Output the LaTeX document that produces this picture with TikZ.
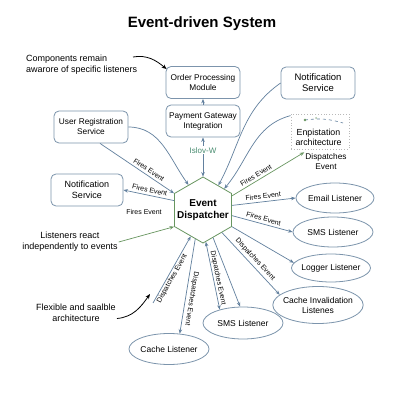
\documentclass[tikz,border=0pt]{standalone}
\usepackage{fontspec}
\setmainfont{Liberation Sans}
\definecolor{edblue}{RGB}{98,128,158}
\definecolor{bxblue}{RGB}{124,148,172}
\definecolor{edgreen}{RGB}{104,150,96}
\definecolor{txtgreen}{RGB}{72,140,112}
\usetikzlibrary{arrows.meta,positioning,shapes.geometric,calc}

\begin{document}
\begin{tikzpicture}[x=1pt, y=1pt,
  comp/.style={rectangle, rounded corners=5pt, draw=bxblue, line width=0.8pt,
              fill=white, minimum width=74pt, minimum height=32pt, inner sep=2pt,
              font=\fontsize{8.3}{10}\selectfont, align=center},
  lis/.style={ellipse, draw=bxblue, line width=0.8pt, fill=white,
              minimum width=80pt, minimum height=31pt, inner xsep=-3pt, inner ysep=0pt,
              font=\fontsize{8.5}{10}\selectfont, align=center},
  note/.style={font=\fontsize{9}{10.8}\selectfont, align=center, inner sep=1pt},
  lbl/.style={font=\fontsize{7}{8}\selectfont, inner sep=1.5pt},
  conn/.style={-{Stealth[length=4.5pt,width=3.5pt]}, draw=edblue, line width=0.7pt},
  conng/.style={conn, draw=edgreen},
  both/.style={conn, {Stealth[length=4.5pt,width=3.5pt]}-{Stealth[length=4.5pt,width=3.5pt]}},
  curv/.style={-{Stealth[length=5pt,width=4pt]}, line width=0.8pt, draw=black}
]
\fill[white] (0,0) rectangle (400,400);
\useasboundingbox (0,0) rectangle (400,400);

\node[font=\bfseries\fontsize{15}{18}\selectfont] (title) at (202,376) {Event-driven System};

% dispatcher
\node[regular polygon, regular polygon sides=6, shape border rotate=30, minimum size=66pt,
      inner sep=0pt, draw=edgreen, line width=0.8pt, fill=white] (hex) at (203,190) {};
\node[font=\bfseries\fontsize{10}{11.5}\selectfont, align=center] (hextxt) at (hex) {Event\\Dispatcher};

% components
\node[comp] (order) at (203,317.5) {Order Processing\\Module};
\node[comp] (pay) at (203,279) {Payment Gateway\\Integration};
\node[comp] (userreg) at (91,273) {User Registration\\Service};
\node[comp, minimum width=72pt, font=\fontsize{9}{10.5}\selectfont] (notifl) at (87,210) {Notification\\Service};
\node[comp, font=\fontsize{9.5}{11}\selectfont] (notifr) at (318,317) {Notification\\Service};

\node[rectangle, draw=gray!55, dotted, line width=0.8pt, minimum width=58pt, minimum height=35pt] (enpi) at (320,268.5) {};
\node[font=\fontsize{8.8}{10}\selectfont, align=center] (enpitxt) at (318.5,263) {Enpistation\\architecture};
\draw[edblue, dashed, line width=0.6pt] (305,280) to[bend left=12] (343,277);
\fill[edgreen] (305,280) circle (1.3pt);
\fill[edgreen!60] (316,282) circle (1pt);
\node[font=\fontsize{8.3}{10}\selectfont, align=center, inner sep=1pt] (disptxt) at (326,238.5) {Dispatches\\Event};

% listeners
\node[lis, minimum width=78pt, minimum height=30pt] (email) at (335,202) {Email Listener};
\node[lis, minimum height=30pt] (smsr) at (333,168) {SMS Listener};
\node[lis, minimum width=79pt, minimum height=28pt] (logger) at (331,132) {Logger Listener};
\node[lis, minimum width=89pt, minimum height=37pt] (cacheinv) at (318,95) {Cache Invalidation\\Listenes};
\node[lis, minimum height=32pt] (smsb) at (243,77) {SMS Listener};
\node[lis] (cache) at (169,51) {Cache Listener};

% notes
\node[note, align=left, anchor=west] (cnote) at (25,335.5) {Components remain\\awarore of specific listeners};
\node[note] (lnote) at (70,158) {Listeners react\\independently to events};
\node[note] (fnote) at (76,87.5) {Flexible and saalble\\architecture};
\node[lbl] (firesfree) at (144,188) {Fires Event};

\coordinate (ctail) at (133,343);
\coordinate (lowend) at (153,97);
\coordinate (fhead) at (150,106);

\draw[curv] (ctail) to[out=10, in=140] ([xshift=1pt,yshift=-3pt]order.north west);
\draw[curv] ([yshift=-6pt]fnote.east) to[out=5, in=235] (fhead);

% connectors
\draw[conn] (pay.north) -- (order.south);
\draw[both] (pay.south) -- (hex.north) node[pos=0.33, fill=white, text=txtgreen, inner sep=1pt,
  font=\fontsize{8}{9}\selectfont] {Islov-W};
\draw[conn] (userreg.east) to[out=0, in=126] (hex.120);
\draw[conn] ([xshift=9pt]userreg.south) -- (hex.150) node[lbl, sloped, above=1pt, pos=0.62] {Fires Event};
\draw[conn] (hex.162) -- (notifl.east) node[lbl, sloped, above=1pt, midway] {Fires Event};
\draw[conn] (notifr.west) to[out=215, in=62] (hex.58);
\draw[conn] ([yshift=-2pt]enpi.north west) to[out=195, in=50] (hex.45);
\draw[conng] (hex.26) -- (disptxt.north west) node[lbl, sloped, above=1pt, pos=0.37] {Fires Event};
\draw[conn] (hex.9) -- (email.west) node[lbl, sloped, above=1pt, midway] {Fires Event};
\draw[conn] (hex.-11) -- (smsr.west) node[lbl, sloped, above=1pt, midway] {Fires Event};
\draw[conn] (hex.-30) -- (logger.172);
\draw[conn] (hex.-50) -- (cacheinv.165) node[lbl, sloped, above=1pt, pos=0.5] {Dispatches Event};
\draw[conn] (lowend) -- (hex.-115) node[lbl, sloped, below, pos=0.4, inner sep=1pt] {Dispatches Event};
\draw[conn] (hex.-105) -- (cache.55) node[lbl, sloped, allow upside down, above=1pt, pos=0.62] {Dispatches Event};
\draw[both] (hex.-85) -- (smsb.150) node[lbl, sloped, above, pos=0.55, inner sep=1pt] {Dispatches Event};
\draw[conn] (hex.-70) -- (smsb.100);
\draw[conng] (lnote.east) -- (hex.-150);
\end{tikzpicture}
\end{document}
